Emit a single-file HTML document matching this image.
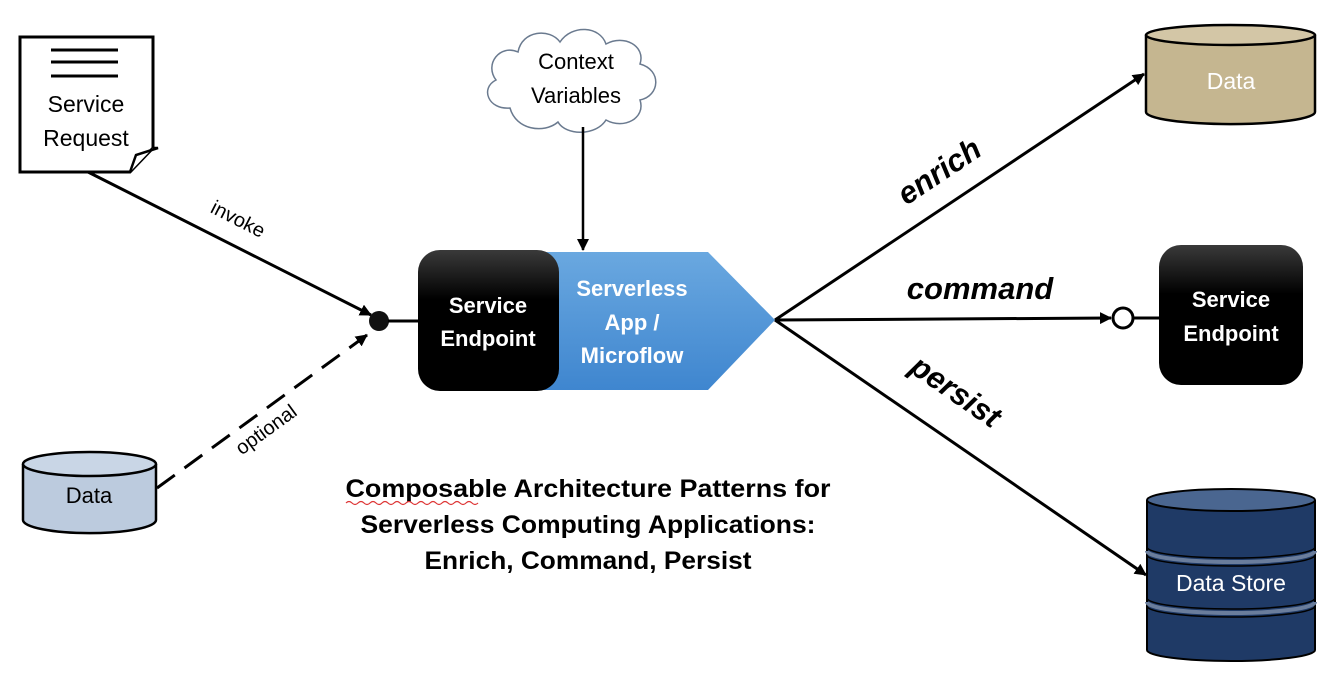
<!DOCTYPE html>
<html><head><meta charset="utf-8"><style>
html,body{margin:0;padding:0;background:#fff;}
svg{display:block;font-family:"Liberation Sans",sans-serif;}
</style></head><body>
<svg width="1332" height="682" viewBox="0 0 1332 682" xmlns="http://www.w3.org/2000/svg">
<defs>
<marker id="ah" markerWidth="12" markerHeight="12" refX="11" refY="6" orient="auto" markerUnits="userSpaceOnUse"><path d="M0,0 L12,6 L0,12 z" fill="#000"/></marker>
<linearGradient id="blk" x1="0" y1="0" x2="0" y2="1"><stop offset="0" stop-color="#3a3a3a"/><stop offset="0.35" stop-color="#000"/><stop offset="1" stop-color="#000"/></linearGradient>
<linearGradient id="blue" x1="0" y1="0" x2="0" y2="1"><stop offset="0" stop-color="#6aa8e0"/><stop offset="1" stop-color="#3f86cf"/></linearGradient>
</defs>

<path d="M20,37 H153 V148 L130,172 H20 Z" fill="#fff" stroke="#000" stroke-width="3"/>
<path d="M130,172 L136,155 L158,148 L153,148" fill="#fff" stroke="#000" stroke-width="2.5"/>
<line x1="51" y1="50" x2="118" y2="50" stroke="#000" stroke-width="3"/>
<line x1="51" y1="62" x2="118" y2="62" stroke="#000" stroke-width="3"/>
<line x1="51" y1="76" x2="118" y2="76" stroke="#000" stroke-width="3"/>
<text x="86" y="112" font-size="23" text-anchor="middle">Service</text>
<text x="86" y="146" font-size="23" text-anchor="middle">Request</text>

<line x1="88" y1="172" x2="371" y2="315" stroke="#000" stroke-width="3" marker-end="url(#ah)"/>
<text x="235" y="225" font-size="20" text-anchor="middle" transform="rotate(27 235 225)">invoke</text>

<path d="M23,464 V520 A66,13 0 0 0 156,520 V464" fill="#bccbde" stroke="#000" stroke-width="2.5"/>
<ellipse cx="89.5" cy="464" rx="66.5" ry="12" fill="#c9d6e6" stroke="#000" stroke-width="2.5"/>
<text x="89" y="503" font-size="22" text-anchor="middle">Data</text>

<line x1="157" y1="488" x2="367" y2="335" stroke="#000" stroke-width="3" stroke-dasharray="22,12" marker-end="url(#ah)"/>
<text x="270" y="435" font-size="20" text-anchor="middle" transform="rotate(-36 270 435)">optional</text>

<circle cx="379" cy="321" r="10" fill="#111"/>
<line x1="388" y1="321" x2="420" y2="321" stroke="#000" stroke-width="3"/>

<path d="M540,252 H708 L775,320 L708,390 H540 Z" fill="url(#blue)"/>
<text x="632" y="296" font-size="22" font-weight="bold" fill="#fff" text-anchor="middle">Serverless</text>
<text x="632" y="330" font-size="22" font-weight="bold" fill="#fff" text-anchor="middle">App /</text>
<text x="632" y="363" font-size="22" font-weight="bold" fill="#fff" text-anchor="middle">Microflow</text>

<rect x="418" y="250" width="141" height="141" rx="22" fill="url(#blk)"/>
<text x="488" y="313" font-size="22" font-weight="bold" fill="#fff" text-anchor="middle">Service</text>
<text x="488" y="346" font-size="22" font-weight="bold" fill="#fff" text-anchor="middle">Endpoint</text>

<path d="M510,108 C488,110 480,88 496,80 C484,64 500,44 518,52 C522,30 550,28 560,42 C572,24 600,26 606,44 C624,34 646,46 640,64 C662,70 660,96 640,100 C646,118 624,130 606,120 C596,136 566,136 558,122 C544,134 516,130 510,108 Z" fill="#fff" stroke="#6a7a8f" stroke-width="1.5"/>
<text x="576" y="69" font-size="22" text-anchor="middle">Context</text>
<text x="576" y="103" font-size="22" text-anchor="middle">Variables</text>
<line x1="583" y1="127" x2="583" y2="250" stroke="#000" stroke-width="2.5" marker-end="url(#ah)"/>

<line x1="775" y1="320" x2="1144" y2="74" stroke="#000" stroke-width="3" marker-end="url(#ah)"/>
<line x1="775" y1="320" x2="1111" y2="318" stroke="#000" stroke-width="3" marker-end="url(#ah)"/>
<line x1="775" y1="320" x2="1146" y2="575" stroke="#000" stroke-width="3" marker-end="url(#ah)"/>
<text x="945" y="180" font-size="31" font-weight="bold" font-style="italic" text-anchor="middle" transform="rotate(-33.8 945 180)">enrich</text>
<text x="980" y="299" font-size="31" font-weight="bold" font-style="italic" text-anchor="middle">command</text>
<text x="950" y="400" font-size="31" font-weight="bold" font-style="italic" text-anchor="middle" transform="rotate(34.6 950 400)">persist</text>

<circle cx="1123" cy="318" r="10" fill="#fff" stroke="#000" stroke-width="3"/>
<line x1="1133" y1="318" x2="1160" y2="318" stroke="#000" stroke-width="3"/>

<path d="M1146,35 V112 A84,12 0 0 0 1315,112 V35" fill="#c5b690" stroke="#000" stroke-width="2.5"/>
<ellipse cx="1230.5" cy="35" rx="84.5" ry="10" fill="#d3c6a6" stroke="#000" stroke-width="2.5"/>
<text x="1231" y="89" font-size="23" fill="#fff" text-anchor="middle">Data</text>

<rect x="1159" y="245" width="144" height="140" rx="22" fill="url(#blk)"/>
<text x="1231" y="307" font-size="22" font-weight="bold" fill="#fff" text-anchor="middle">Service</text>
<text x="1231" y="341" font-size="22" font-weight="bold" fill="#fff" text-anchor="middle">Endpoint</text>

<path d="M1147,500 V650 A84,11 0 0 0 1315,650 V500" fill="#1f3a66" stroke="#000" stroke-width="2"/>
<path d="M1147,547 A84,11 0 0 0 1315,547" fill="none" stroke="#000" stroke-width="1.5"/>
<path d="M1147,551 A84,11 0 0 0 1315,551" fill="none" stroke="#6a7d9c" stroke-width="4"/>
<path d="M1147,555 A84,11 0 0 0 1315,555" fill="none" stroke="#000" stroke-width="1.5"/>
<path d="M1147,598 A84,11 0 0 0 1315,598" fill="none" stroke="#000" stroke-width="1.5"/>
<path d="M1147,602 A84,11 0 0 0 1315,602" fill="none" stroke="#6a7d9c" stroke-width="4"/>
<path d="M1147,606 A84,11 0 0 0 1315,606" fill="none" stroke="#000" stroke-width="1.5"/>
<ellipse cx="1231" cy="500" rx="84" ry="11" fill="#4a6690" stroke="#000" stroke-width="2"/>
<text x="1231" y="591" font-size="23" fill="#fff" text-anchor="middle">Data Store</text>

<g font-size="25" font-weight="bold" text-anchor="middle">
<text x="588" y="497" textLength="485" lengthAdjust="spacingAndGlyphs">Composable Architecture Patterns for</text>
<text x="588" y="533" textLength="455" lengthAdjust="spacingAndGlyphs">Serverless Computing Applications:</text>
<text x="588" y="569" textLength="327" lengthAdjust="spacingAndGlyphs">Enrich, Command, Persist</text>
</g>
<path d="M346,503 q3,-3 6,0 t6,0 t6,0 t6,0 t6,0 t6,0 t6,0 t6,0 t6,0 t6,0 t6,0 t6,0 t6,0 t6,0 t6,0 t6,0 t6,0 t6,0 t6,0 t6,0 t6,0 t6,0" fill="none" stroke="#d33" stroke-width="1.2"/>
</svg>
</body></html>
